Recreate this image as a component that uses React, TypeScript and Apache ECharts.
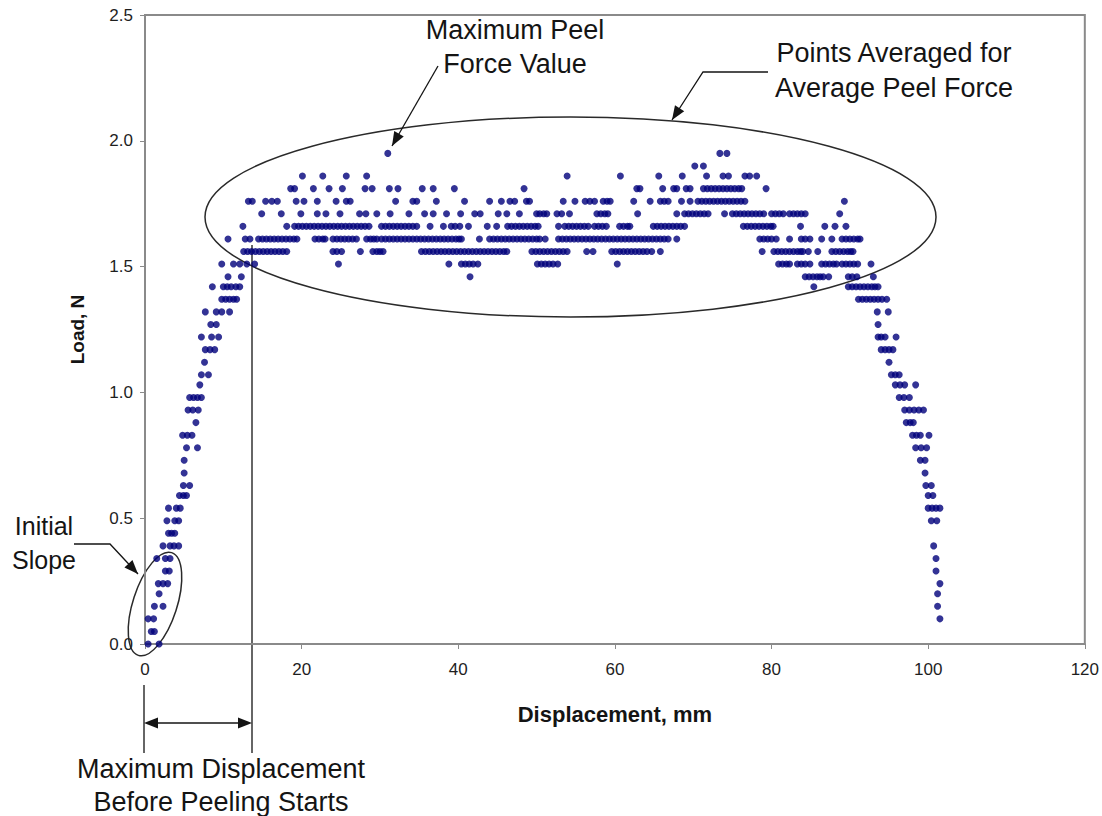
import React, { useEffect, useRef } from "react";
import * as echarts from "echarts";

// Displacement (mm) of each recorded point, grouped by the load level (N) it sits on
const L195 = [31.0, 73.4, 74.3];
const L190 = [70.2, 71.3];
const L186 = [20.1, 22.7, 25.7, 28.3, 53.9, 60.7, 65.6, 68.6, 71.7, 73.8, 74.5, 76.6, 77.2, 78.1];
const L181 = [18.6, 19.1, 21.5, 23.5, 25.2, 28.1, 29.0, 31.2, 32.3, 35.4, 36.8, 39.5, 48.4, 62.8, 63.2, 66.1, 67.5, 67.9, 69.1, 69.6, 71.3, 71.8, 72.3, 72.8, 73.3, 73.8, 74.3, 74.8, 75.3, 75.8, 76.2, 79.3];
const L176 = [13.2, 13.7, 15.4, 16.2, 16.9, 19.3, 20.3, 22.0, 24.4, 25.7, 26.2, 32.0, 34.2, 34.7, 37.2, 40.8, 44.0, 45.5, 46.6, 47.2, 48.7, 49.1, 53.4, 54.9, 56.2, 56.8, 57.4, 58.5, 59.0, 59.4, 62.4, 64.5, 65.8, 66.3, 66.8, 68.5, 69.6, 70.6, 71.1, 71.6, 72.1, 72.6, 73.1, 73.6, 74.1, 74.6, 75.1, 75.6, 76.1, 76.6, 89.3];
const L171 = [14.9, 17.4, 19.9, 22.0, 23.1, 24.9, 27.4, 28.2, 29.6, 31.3, 33.7, 35.7, 36.8, 38.5, 40.3, 42.1, 42.8, 45.1, 46.2, 47.8, 50.0, 50.4, 50.9, 51.3, 52.6, 53.2, 54.2, 57.7, 58.2, 58.7, 59.1, 62.9, 67.9, 68.9, 69.4, 69.9, 70.4, 70.9, 71.4, 71.9, 74.0, 75.0, 75.5, 76.0, 76.5, 77.0, 77.5, 78.0, 78.5, 79.0, 80.0, 80.5, 81.0, 81.5, 82.3, 82.8, 83.3, 83.8, 84.3, 88.7];
const L166 = [12.5, 18.1, 19.1, 19.6, 20.1, 20.6, 21.1, 21.6, 22.1, 22.6, 23.1, 23.6, 24.1, 24.6, 25.1, 25.6, 26.1, 26.6, 27.1, 27.6, 28.1, 28.6, 30.2, 30.7, 31.2, 31.7, 32.2, 32.7, 33.2, 33.7, 34.2, 34.7, 36.4, 38.1, 39.1, 39.6, 40.2, 41.3, 43.7, 44.9, 46.3, 46.8, 47.3, 47.8, 48.3, 48.8, 49.3, 49.8, 50.2, 52.8, 53.6, 54.1, 54.6, 55.1, 55.6, 56.1, 56.6, 57.4, 57.9, 58.4, 58.9, 60.6, 61.1, 61.6, 61.9, 64.9, 65.4, 65.9, 66.4, 66.9, 67.4, 67.9, 68.4, 68.9, 76.4, 76.9, 77.4, 77.9, 78.4, 78.9, 79.4, 79.9, 80.2, 83.7, 86.8, 88.1, 89.5];
const L161 = [10.6, 12.8, 13.4, 14.5, 15.0, 15.5, 16.0, 16.5, 17.0, 17.5, 18.0, 18.5, 19.0, 19.4, 21.7, 22.2, 22.7, 23.0, 24.0, 24.5, 25.0, 25.5, 26.0, 26.5, 27.0, 28.3, 28.8, 29.2, 29.6, 30.2, 30.7, 31.2, 31.7, 32.2, 32.7, 33.2, 33.7, 34.2, 34.7, 35.2, 35.7, 36.2, 36.7, 37.2, 37.7, 38.2, 38.7, 39.2, 39.7, 40.1, 40.4, 42.7, 44.0, 44.5, 45.0, 45.5, 46.0, 46.5, 47.0, 47.5, 48.0, 48.5, 49.0, 49.5, 50.0, 50.4, 51.1, 52.8, 53.3, 53.8, 54.3, 54.8, 55.3, 55.8, 56.3, 56.8, 57.3, 57.8, 58.3, 58.8, 59.3, 59.8, 60.3, 60.8, 61.3, 61.8, 62.3, 62.8, 63.3, 63.8, 64.3, 64.8, 65.3, 65.8, 66.3, 66.8, 67.9, 78.5, 79.0, 79.5, 80.0, 80.6, 82.3, 83.8, 84.3, 84.9, 86.4, 87.7, 89.0, 89.5, 90.0, 90.5, 91.0, 91.3];
const L156 = [12.6, 13.1, 13.6, 14.1, 14.6, 15.1, 15.6, 16.1, 16.6, 17.1, 17.6, 18.1, 24.0, 24.5, 25.1, 27.5, 29.1, 29.6, 30.0, 30.4, 35.3, 35.8, 36.3, 36.8, 37.3, 37.8, 38.3, 38.8, 39.3, 39.8, 40.3, 40.8, 41.3, 41.8, 42.3, 42.8, 43.3, 43.8, 44.3, 44.8, 45.3, 45.8, 46.2, 49.4, 49.9, 50.4, 50.9, 51.4, 51.9, 52.4, 52.9, 53.4, 53.9, 56.4, 57.2, 59.6, 60.1, 60.6, 61.1, 61.6, 62.1, 62.6, 63.1, 63.6, 64.1, 64.7, 65.8, 78.8, 80.3, 80.8, 81.3, 81.8, 82.3, 82.8, 83.3, 83.7, 84.0, 84.7, 85.9, 87.7, 88.2, 88.7, 89.2, 89.7, 90.1, 90.4];
const L151 = [9.8, 11.3, 12.1, 13.0, 14.0, 24.7, 38.8, 40.4, 40.9, 41.4, 41.9, 42.5, 50.1, 50.6, 51.1, 51.6, 52.1, 52.7, 60.3, 80.9, 81.4, 81.9, 82.3, 83.3, 83.8, 84.3, 84.9, 86.4, 86.9, 87.4, 87.9, 88.3, 89.0, 89.5, 90.0, 90.5, 91.0, 92.7];
const L146 = [10.6, 12.3, 41.5, 84.3, 84.8, 85.3, 85.8, 86.2, 86.6, 87.3, 89.8, 90.3, 90.9, 93.0];
const L142 = [8.6, 10.0, 10.5, 11.0, 11.6, 12.1, 85.4, 89.8, 90.3, 90.8, 91.3, 91.8, 92.3, 92.8, 93.2, 93.6];
const L137 = [9.8, 10.3, 10.8, 11.3, 11.7, 91.1, 91.6, 92.1, 92.6, 93.1, 93.6, 94.1, 94.7];
const L132 = [7.7, 9.1, 9.8, 10.8, 93.5, 94.9];
const L127 = [8.4, 9.1, 93.6];
const L122 = [7.2, 8.5, 9.4, 93.6, 94.0, 94.5, 95.9];
const L117 = [7.7, 8.3, 8.9, 94.0, 94.5, 95.0, 95.5];
const L112 = [7.6, 95.0];
const L107 = [7.2, 8.1, 95.3, 95.8, 96.3];
const L103 = [7.0, 95.8, 96.4, 97.0, 98.4];
const L098 = [5.7, 6.2, 6.7, 7.2, 96.3, 96.9, 97.6];
const L093 = [5.5, 6.1, 6.8, 97.0, 97.6, 98.2, 98.8, 99.4];
const L088 = [6.5, 97.2, 97.7, 98.1];
const L083 = [4.8, 5.4, 6.0, 98.0, 98.5, 99.0, 100.1];
const L078 = [5.3, 6.7, 98.4, 99.1, 99.8];
const L073 = [5.0, 99.0, 99.6];
const L068 = [5.0, 99.6];
const L063 = [4.9, 5.7, 99.7, 100.4];
const L059 = [4.4, 4.9, 5.3, 100.0, 100.6];
const L054 = [3.0, 4.0, 4.5, 100.0, 100.5, 101.0, 101.5];
const L049 = [2.8, 3.8, 4.3, 100.4, 101.1];
const L044 = [3.0, 3.4, 3.8];
const L039 = [2.3, 3.2, 3.7, 4.3, 100.7];
const L034 = [1.5, 2.6, 3.2, 101.0];
const L029 = [2.6, 3.1, 101.0];
const L024 = [1.7, 2.3, 2.9, 101.5];
const L020 = [1.8, 101.2];
const L015 = [1.2, 2.3, 101.2];
const L010 = [0.4, 1.1, 101.5];
const L005 = [0.8, 1.2];
const L000 = [0.4, 1.8];

const levelTable: [number, number[]][] = [
  [1.95, L195], [1.9, L190], [1.86, L186], [1.81, L181], [1.76, L176], [1.71, L171],
  [1.66, L166], [1.61, L161], [1.56, L156], [1.51, L151], [1.46, L146], [1.42, L142],
  [1.37, L137], [1.32, L132], [1.27, L127], [1.22, L122], [1.17, L117], [1.12, L112],
  [1.07, L107], [1.03, L103], [0.98, L098], [0.93, L093], [0.88, L088], [0.83, L083],
  [0.78, L078], [0.73, L073], [0.68, L068], [0.63, L063], [0.59, L059], [0.54, L054],
  [0.49, L049], [0.44, L044], [0.39, L039], [0.34, L034], [0.29, L029], [0.24, L024],
  [0.2, L020], [0.15, L015], [0.1, L010], [0.05, L005], [0, L000],
];

const xTicks = { min: 0, max: 120, interval: 20 };
const yTicks = { min: 0, max: 2.5, interval: 0.5 };

const FONT = '"Liberation Sans", Arial, sans-serif';
const INK = "#141414";

function head(tx: number, ty: number, fx: number, fy: number, len = 14, half = 5.5) {
  const dx = tx - fx, dy = ty - fy;
  const d = Math.hypot(dx, dy);
  const ux = dx / d, uy = dy / d;
  const bx = tx - ux * len, by = ty - uy * len;
  return {
    type: "polygon",
    silent: true,
    shape: { points: [[tx, ty], [bx - uy * half, by + ux * half], [bx + uy * half, by - ux * half]] },
    style: { fill: INK },
  };
}

function line(points: number[][], w = 1.3) {
  return { type: "polyline", silent: true, shape: { points }, style: { stroke: INK, lineWidth: w, fill: null } };
}

function label(x: number, y: number, text: string, size: number, lh: number) {
  return {
    type: "text",
    silent: true,
    x,
    y,
    style: { text, fontSize: size, fontFamily: FONT, fill: INK, align: "center", verticalAlign: "middle", lineHeight: lh },
  };
}

export default function App() {
  const ref = useRef<HTMLDivElement>(null);
  useEffect(() => {
    if (!ref.current) return;
    const chart = echarts.init(ref.current, null, { renderer: "svg" });
    const data: number[][] = [];
    for (const [load, xs] of levelTable) for (const x of xs) data.push([x, load]);

    const axisColor = "#8a8a8a";
    chart.setOption({
      animation: false,
      backgroundColor: "#ffffff",
      grid: { left: 145, top: 15, width: 940, height: 629, show: true, borderColor: axisColor, borderWidth: 2, backgroundColor: "transparent" },
      xAxis: {
        type: "value",
        ...xTicks,
        axisLine: { show: true, onZero: false, lineStyle: { color: axisColor, width: 2 } },
        axisTick: { show: true, length: 5, lineStyle: { color: axisColor, width: 1 } },
        splitLine: { show: false },
        axisLabel: { color: "#1e1e1e", fontSize: 17, fontFamily: FONT, margin: 17 },
        name: "Displacement, mm",
        nameLocation: "middle",
        nameGap: 59,
        nameTextStyle: { color: INK, fontSize: 22, fontWeight: "bold", fontFamily: FONT },
      },
      yAxis: {
        type: "value",
        ...yTicks,
        axisLine: { show: true, onZero: false, lineStyle: { color: axisColor, width: 2 } },
        axisTick: { show: true, length: 5, lineStyle: { color: axisColor, width: 1 } },
        splitLine: { show: false },
        axisLabel: { color: "#1e1e1e", fontSize: 17, fontFamily: FONT, margin: 12, formatter: (v: number) => v.toFixed(1) },
        name: "Load, N",
        nameLocation: "middle",
        nameGap: 58,
        nameRotate: 90,
        nameTextStyle: { color: INK, fontSize: 19, fontWeight: "bold", fontFamily: FONT },
      },
      series: [
        {
          type: "scatter",
          data,
          symbol: "circle",
          symbolSize: 7,
          itemStyle: { color: "#00007a" },
          silent: true,
        },
      ],
      graphic: [
        { type: "ellipse", silent: true, shape: { cx: 570.5, cy: 217, rx: 365.5, ry: 100 }, style: { fill: null, stroke: "#2a2a2a", lineWidth: 1.5 } },
        { type: "ellipse", silent: true, x: 155, y: 604, rotation: (-18 * Math.PI) / 180, shape: { cx: 0, cy: 0, rx: 22, ry: 54 }, style: { fill: null, stroke: "#2a2a2a", lineWidth: 1.5 } },
        // Maximum peel force callout
        line([[438, 66], [392, 146]]),
        head(392, 146, 438, 66),
        label(515, 47, "Maximum Peel\nForce Value", 27, 34),
        // Points averaged callout
        line([[768, 72], [703, 72], [672, 120]]),
        head(672, 120, 703, 72),
        label(894, 70, "Points Averaged for\nAverage Peel Force", 27, 35),
        // Initial slope callout
        line([[74, 544], [110, 544], [138, 574]]),
        head(138, 574, 110, 544),
        label(44, 543, "Initial\nSlope", 25, 34),
        // Maximum displacement before peeling
        line([[144, 685], [144, 753]]),
        line([[252, 245], [252, 753]]),
        line([[150, 723], [246, 723]]),
        head(144, 723, 252, 723),
        head(252, 723, 144, 723),
        label(221, 785, "Maximum Displacement\nBefore Peeling Starts", 27, 33),
      ],
    });
    return () => chart.dispose();
  }, []);
  return <div ref={ref} style={{ position: "absolute", left: 0, top: 0, width: 1102, height: 816 }} />;
}
